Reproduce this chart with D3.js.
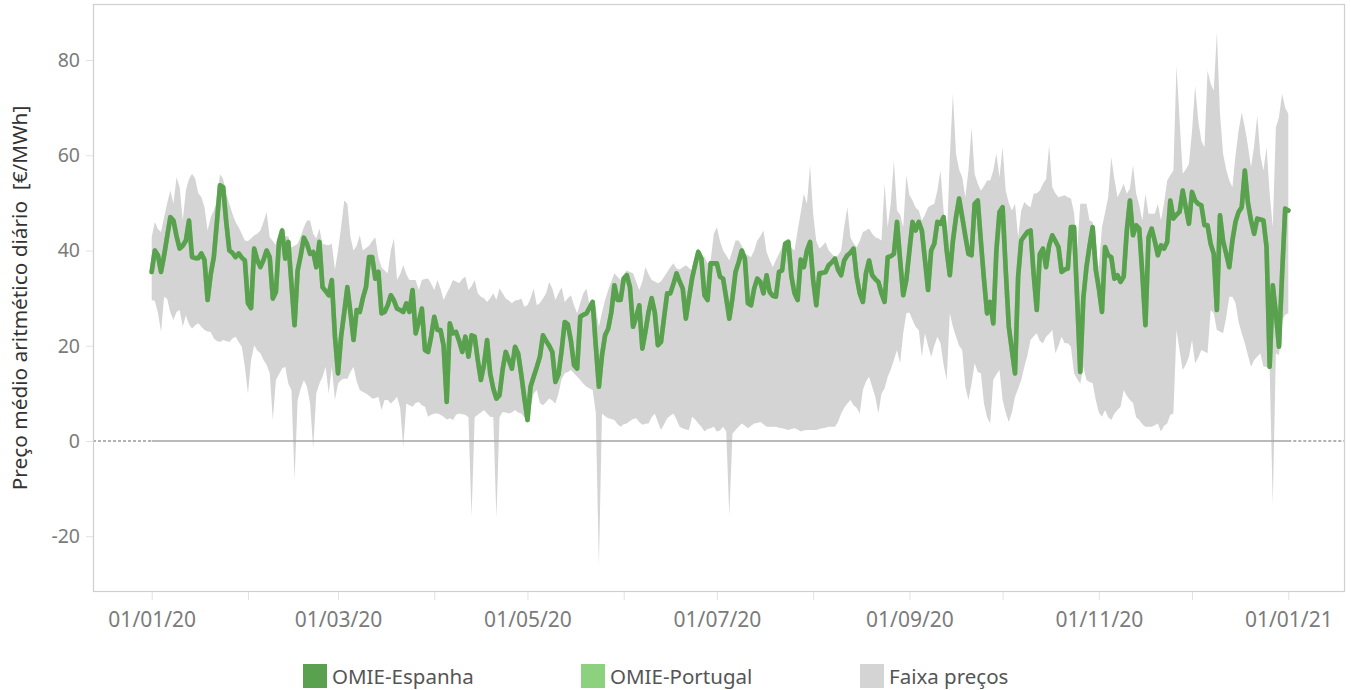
<!DOCTYPE html>
<html><head><meta charset="utf-8">
<script src="https://cdn.jsdelivr.net/npm/d3@7"></script>
<style>
body{margin:0;background:#fff}
svg{display:block}
text{font-family:"Noto Sans",sans-serif}
</style>
</head><body>
<svg id="chart" width="1351" height="690"></svg>
<script>
// ---- data (daily, 01/01/2020 .. 01/01/2021) ----
const startDate = Date.UTC(2020, 0, 1);
const endDate = Date.UTC(2021, 0, 1);

const spain = [
35.5,40,39,35.5,39,43,47,46.3,43,40.4,
41,42.1,46.3,38.6,38.4,38.4,39.4,38,29.6,35,
38.6,46,53.7,53.3,46,40,39.5,38.6,39.4,38.5,
37.9,28.9,27.9,40.4,38,36.5,38,40,38.6,29.9,
31.3,41.8,44.2,38.3,41.8,33,24.3,35.8,39,42.7,
41.4,39.3,39.7,36.5,41.8,32.3,31.5,30.6,33.8,22,
14.2,22,27,32.3,27,21.2,27.5,27.1,30,32.3,
38.6,38.6,34.1,35.5,26.8,27.1,28.5,30.6,29.5,27.8,
27.5,27.1,28.9,27.1,31.7,22.6,25,27.8,19.1,18.7,
22,26.1,23.3,23.3,20,8.2,24.7,22.6,22.9,21,
18.7,21.9,17.7,22.2,21.9,17,12.8,16,21.2,14.2,
11,8.9,9.6,15,18.7,17,15.2,19.8,18.4,14,
9,4.4,11.4,13.5,15.5,17.7,22.2,21,20,18.7,
12.4,14,19,25,24.5,21,15.9,15.2,26.1,26.5,
26.8,28,29.2,20,11.4,18,22.2,23.6,27,32.7,
29.6,29.6,34.1,34.8,32.3,24,26,28.5,19.4,23,
27.1,30,27,20.1,20.8,26,31,31,33,35.2,
33.5,32,25.7,30,34.1,37,39.7,38.3,30.6,29.6,
37.3,37.3,37.3,34.5,34.1,30,25.7,30,35.5,37.5,
40,38.3,28.9,28.5,32,34.1,33.4,31,34.8,31.3,
30.5,30.3,35.5,35.8,41.4,41.8,34.5,31,29.6,38.1,
36.5,40,41.8,33.8,28.5,35.2,35.3,35.5,36.9,37.5,
38.3,36,34.8,37.9,39,39.5,40.4,34.5,31,29.2,
35.2,37.9,34.8,34,33.4,31,29.2,38.6,38.8,39.3,
46,38,30.6,33.8,40,46,44.2,46,44.2,38,
31.7,40,41.4,46,45.6,47,40,34.8,42,47,
50.9,47,43,39.3,39,49.8,50.5,42,34,26.8,
29.2,24.7,40,48.1,49.1,36,24,19,14.2,34.5,
42.1,43,43.9,44.2,35,27.5,39.3,40.4,36.5,41.1,
43.2,42,40.7,35.5,36,36.2,44.9,44.9,30,14.5,
30,36.5,41,44.9,36,32,27.1,40.7,39,38.6,
34.1,34.8,33.4,34.5,44.2,50.5,43.2,45.3,44.6,35,
24.3,42.8,44.6,42,39,41.1,40.4,41.8,50.5,46.7,
47.5,48.1,52.6,49,45.6,52.3,50.5,49.8,49.5,45.3,
45.3,41.4,39.3,27.5,47.4,42,39.3,36.5,42.1,46,
48.1,49.1,56.8,50,46.3,43.5,46.7,46.5,46.3,40.7,
15.6,32.7,26.8,19.8,35,48.8,48.4
];

// Portuguese price coincides with the Spanish one (market coupling); drawn underneath
const portugal = spain;

const priceMax = [
42.8,46,44.5,43.9,47,50,52.6,49.8,55.4,53.3,
46.3,52.6,55,56.1,55.1,52,51.2,49.1,44.2,47,
48.4,50.5,56,55,51.9,49.8,47.7,46,44.9,43.5,
42.1,42,42.5,43.2,43.5,44.2,46,48.1,42.8,42,
41.1,43.5,45,43,43,40.7,41,41.4,43,44.9,
46.3,46.3,43.5,42.5,44.6,41.4,41.2,41.1,41.4,36,
40,45,50.5,49.8,42.8,40,41,43.2,40,40.5,
41,42,42.8,38.6,36.5,35.8,35.2,40,42.5,33.8,
35,36.9,35,33.8,33.8,33.8,31.7,33.8,34,34.1,
33,31.7,33.8,32,29.6,31,32.3,33.8,33.5,33.1,
34,34.5,31.7,32.5,33.8,31,30.3,30,29.2,30,
31,29.6,32,31,29.9,29.5,28.9,29.5,29.6,29.9,
28.2,28.5,30,32,28.5,29,29.9,31,33.4,32,
29.6,31,32.3,29.2,30,30.6,28.5,26.8,29,31,
32,28.5,28.9,28,24,27,29.6,31.7,33.5,35.2,
34.5,33.8,35,35.8,35.5,35.2,33.5,31.7,33.5,36.5,
35,33.8,33.5,33.1,33.5,34.5,35.5,36.5,37.3,36.2,
36,36.5,36.9,36.3,35.8,38.6,40.5,39,38.6,37.3,
38,43.5,44.9,42,40,39,37.9,40,42.1,42.1,
41,39.3,39,38.6,40,42.1,43,44.2,39.7,38,
36.5,38,39.3,40.7,42.1,42.5,40.5,40,44.2,48,
51.9,49.8,57.9,47.7,42,40.4,41,41.8,40,39.3,
38.6,39,40,45,49.1,42.8,41.5,40.7,42,43.9,
44.2,44.6,43.5,42.8,42.5,42.1,54,44.9,50,58.9,
48.4,47.5,44.9,55.8,51.6,50.5,49,48.4,46.3,47.5,
49.1,49.5,49.8,52.6,56.8,48.4,41.4,59.6,72.9,60.3,
57,55.4,51.2,56.8,65.9,56.1,54,52.6,53.5,54.7,
54.7,56.8,60.3,55.4,61.7,52.6,50,48.4,49.8,42.8,
48.4,50.2,49.5,49.1,51.9,52,52.6,54,55,62.1,
53.3,52,51.2,51.4,51.6,51.2,50.9,48,40,49.8,
49.8,49.8,46.3,46,38.5,36.5,44.9,48,51.2,59.6,
55,51.2,52.5,54,51.9,53,57.9,52,49.5,46.3,
51.9,47.7,47.7,47.7,49.8,46.3,50,54.7,55.8,56.8,
78.8,67.3,56.1,57,58.2,65,74.6,67.3,63,61.7,
77.8,75,73.6,85.8,68.7,60.3,57,54.7,53.3,60,
65.2,69,65.9,62,57.5,62,68.3,60,56.8,61.7,
52,44.9,65.9,68,72.9,70,68.7
];

const priceMin = [
29.6,29.4,27,22.9,30.3,29.8,27,25.4,27.1,27.5,
24,26.4,24.5,23.6,24.3,24.7,24,23.3,23,22.9,
21.5,21,20.8,21.2,21,20.8,21.5,21.9,20.8,19.8,
15.6,10,17,20.1,19,18.4,17,16,14.2,4.4,
12.8,14,15.2,15.6,12,10.7,-8.2,8.6,11,12.8,
11.4,8,-1.5,10,12,13.5,15.6,10,15.6,8.6,
12,12.8,13.1,13,14.5,15.6,12.5,10.7,10.3,10,
9.5,8.9,9,9.3,6.5,8.6,8.6,7.9,8.5,9.3,
7,-1.2,7.9,7.5,7.2,8,8.2,7.5,7.2,5.1,
5.5,5.8,5.8,5.5,5.1,4.5,4.8,4.4,5.5,5.8,
5.6,5.5,5,-15.9,5,5.5,6,6.5,5.8,5.1,
5,-16.2,5,6.1,6,5.8,6,6.5,6,5.8,
5,3.8,7.2,10,10.7,8,7.5,8.2,8.9,8.5,
7.9,10,13,14.2,14.5,14.9,14.2,13.5,12.8,12,
11.4,11,10.7,6,-26.3,5.8,5.2,4.8,4.6,4.4,
3.5,3,3.5,3.7,4.2,4.6,4.8,4,3.4,3.6,
3.7,5,5.8,4,2.3,3.5,4.8,5.3,5.8,4.5,
3,2.7,2.4,2.3,5.1,4.5,3.7,3,2,2.5,
2.7,3,2,2.2,3,2,-15.7,1.5,2.3,3,
3.7,3.2,2.7,3.2,3.7,3.8,4,3.5,3,3,
3,3,2.8,2.7,2.5,2.3,2.5,2.7,2.4,2,
2.2,2.3,2.3,2.3,2.3,2.5,2.7,2.8,3,3,
3,4,5.8,7,7.9,8.6,7.5,7,5.8,10.7,
12.5,13.5,11.4,9.3,5.8,10,11,13.5,15,17,
19.1,16.3,22.6,26.8,27,25.4,24,23.3,17.7,22.6,
20,17.7,20,21.9,20.5,16,12.8,26.8,24,21.9,
20,19.1,11.4,8.6,12,16.3,14.5,14.2,7.9,5,
3.7,12.8,14,14.9,8.6,6,4,6,9.3,11,
12.8,15.6,18,21.2,22,22.6,21,20.5,21.9,22.5,
23.3,18.4,20,21.9,20.5,20.5,19.8,14.2,13,12,
15.6,12.8,12.4,12.1,8.6,6,5.1,6.5,5,4.4,
5.8,6.5,7.2,10.7,9.5,8.6,8,5,4.4,3.5,
3,3,3,3.3,3.7,2,3.2,3.7,5.5,5.8,
23.3,19,14.9,16,17.7,21.2,16.3,17.5,19.1,18.8,
18.4,27.5,26.8,23.3,23,22.6,26,30.3,30.3,29,
25,22.6,20.5,18,15.6,17,17.7,18.4,15.6,15.6,
15,-13.4,18.4,18,25.4,26.5,26.8
];

const yTicks = [-20, 0, 20, 40, 60, 80];
const yTitle = "Preço médio aritmético diário  [€/MWh]";
const legendLabels = ["OMIE-Espanha", "OMIE-Portugal", "Faixa preços"];
const colors = {spain: "#59a14f", portugal: "#8cd17d", band: "#d4d4d4"};

// ---- layout ----
const svg = d3.select("#chart");
const frame = {left: 93, top: 4, right: 1345, bottom: 592};

const x = d3.scaleUtc().domain([startDate, endDate]).range([151.7, 1288.3]);
const y = d3.scaleLinear().domain([0, 80]).range([441, 60]);

const dateOf = i => d3.utcDay.offset(new Date(startDate), i);
const rows = spain.map((v, i) => ({
  date: dateOf(i), es: v, pt: portugal[i], lo: priceMin[i], hi: priceMax[i]
}));

svg.append("defs").append("clipPath").attr("id", "clip")
  .append("rect").attr("x", frame.left).attr("y", frame.top)
  .attr("width", frame.right - frame.left).attr("height", frame.bottom - frame.top);

const plot = svg.append("g").attr("clip-path", "url(#clip)");

// band
plot.append("path").datum(rows)
  .attr("fill", colors.band)
  .attr("d", d3.area().x(d => x(d.date)).y0(d => y(d.lo)).y1(d => y(d.hi)));

// zero line: dashed outside the data range, solid inside
const x0 = x(new Date(startDate)), x1 = x(new Date(endDate));
[[frame.left, x0], [x1, frame.right]].forEach(([a, b]) => {
  plot.append("line")
    .attr("x1", a).attr("x2", b).attr("y1", y(0)).attr("y2", y(0))
    .attr("stroke", "#666").attr("stroke-width", 1).attr("stroke-dasharray", "3,2");
});
plot.append("line")
  .attr("x1", x0).attr("x2", x1).attr("y1", y(0)).attr("y2", y(0))
  .attr("stroke", "#a3a3a3").attr("stroke-width", 1.6);

// lines
const line = key => d3.line().x(d => x(d.date)).y(d => y(d[key]));
plot.append("path").datum(rows)
  .attr("fill", "none").attr("stroke", colors.portugal).attr("stroke-width", 4.6)
  .attr("stroke-linejoin", "round").attr("stroke-linecap", "round")
  .attr("d", line("pt"));
plot.append("path").datum(rows)
  .attr("fill", "none").attr("stroke", colors.spain).attr("stroke-width", 4.6)
  .attr("stroke-linejoin", "round").attr("stroke-linecap", "round")
  .attr("d", line("es"));

// frame
svg.append("rect")
  .attr("x", frame.left + 0.5).attr("y", frame.top + 0.5)
  .attr("width", frame.right - frame.left - 1).attr("height", frame.bottom - frame.top - 1)
  .attr("fill", "none").attr("stroke", "#cfcfcf").attr("stroke-width", 1.2);

// y axis
const yAxis = svg.append("g").attr("transform", `translate(${frame.left},0)`)
  .call(d3.axisLeft(y).tickValues(yTicks).tickSize(7).tickPadding(6).tickFormat(d => String(d)));
yAxis.select(".domain").remove();
yAxis.selectAll(".tick line").attr("stroke", "#e2e2e2");
yAxis.selectAll(".tick text").attr("fill", "#7b7b7b").style("font-size", "19.5px")
  .style("font-family", "'Noto Sans', sans-serif");

// x axis
const months = d3.utcMonth.range(new Date(startDate), d3.utcDay.offset(new Date(endDate), 1));
const fmt = d3.utcFormat("%d/%m/%y");
const xAxis = svg.append("g").attr("transform", `translate(0,${frame.bottom})`)
  .call(d3.axisBottom(x).tickValues(months).tickSize(8).tickPadding(12)
    .tickFormat(d => (d.getUTCMonth() % 2 === 0) ? fmt(d) : ""));
xAxis.select(".domain").remove();
xAxis.selectAll(".tick line").attr("stroke", "#e2e2e2");
xAxis.selectAll(".tick text").attr("fill", "#7b7b7b").style("font-size", "21px")
  .style("font-family", "'Noto Sans', sans-serif");

// y title
svg.append("text")
  .attr("transform", `translate(27,${(frame.top + frame.bottom) / 2}) rotate(-90)`)
  .attr("text-anchor", "middle")
  .style("white-space", "pre")
  .style("font-size", "20.8px")
  .attr("fill", "#333")
  .text(yTitle);

// legend
const legendX = [303, 581, 860];
const legendColors = [colors.spain, colors.portugal, colors.band];
const lg = svg.append("g");
legendLabels.forEach((lab, i) => {
  lg.append("rect").attr("x", legendX[i]).attr("y", 664).attr("width", 24).attr("height", 24)
    .attr("fill", legendColors[i]);
  lg.append("text").attr("x", legendX[i] + 29).attr("y", 684)
    .style("font-size", "20.5px").attr("fill", "#555").text(lab);
});
</script>
</body></html>
